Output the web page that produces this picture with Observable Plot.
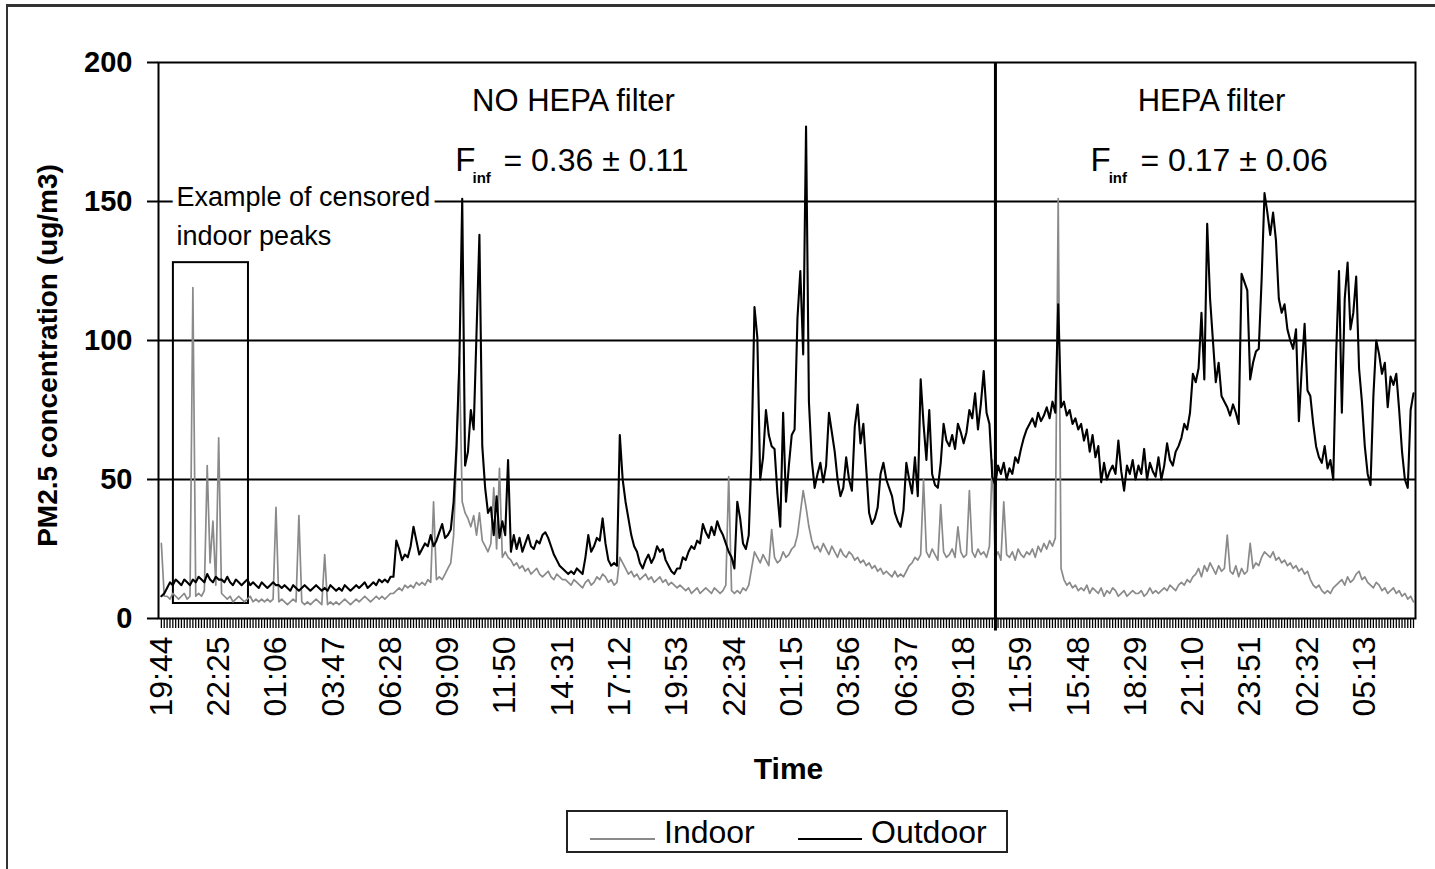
<!DOCTYPE html>
<html>
<head>
<meta charset="utf-8">
<script src="https://cdn.jsdelivr.net/npm/d3@7"></script>
<script src="https://cdn.jsdelivr.net/npm/@observablehq/plot@0.6"></script>
<style>
  html, body { margin: 0; padding: 0; background: #fff; }
  #page { position: relative; width: 1435px; height: 869px; overflow: hidden; font-family: "Liberation Sans", Arial, sans-serif; }
  #chart { position: absolute; left: 0; top: 0; }
  #pageframe { position: absolute; left: 6px; top: 4px; width: 1450px; height: 900px; border-left: 2px solid #333; border-top: 3px solid #333; pointer-events: none; }
  #legend { position: absolute; left: 566px; top: 810px; width: 438px; height: 39px; border: 2px solid #222; background: #fff; }
  #legend .sw { position: absolute; height: 0; }
  #legend .lt { position: absolute; top: 5px; font-size: 32px; line-height: 31px; color: #000; white-space: nowrap; }
</style>
</head>
<body>
<div id="page">
  <div id="chart"></div>
  <div id="pageframe"></div>
  <div id="legend"></div>
</div>
<script>
// ---------- data ----------
// x-axis category labels (every 20th sample)
const timeLabels = ["19:44","22:25","01:06","03:47","06:28","09:09","11:50","14:31","17:12","19:53","22:34",
                    "01:15","03:56","06:37","09:18","11:59","15:48","18:29","21:10","23:51","02:32","05:13"];
const labelEvery = 20;
const labelOffset = -1;
const firstIndex = -1;           // index of the first sample
const yTicks = [0, 50, 100, 150, 200];

// PM2.5 indoor (ug/m3)
const indoor = [27,
  8,8,7,9,8,7,8,9,7,8,119,8,9,8,10,55,20,35,12,65,
  9,8,7,8,6,7,8,7,6,7,8,6,7,6,7,6,7,6,7,40,
  6,7,6,5,6,7,6,37,6,5,6,5,6,7,6,5,23,5,6,5,
  6,5,6,7,6,5,6,7,6,7,8,7,6,7,8,7,8,7,8,9,
  9,10,11,10,12,11,12,11,13,12,13,12,14,13,42,14,15,14,16,18,
  20,30,58,94,42,38,36,33,37,30,38,28,26,24,27,47,25,54,22,24,
  22,21,19,20,18,19,17,18,16,17,18,16,15,16,17,15,14,16,15,14,
  14,13,12,14,13,12,11,13,14,12,13,15,14,16,15,13,14,12,13,22,
  20,18,16,17,15,16,14,15,16,14,15,13,14,15,13,14,12,13,12,11,
  12,11,10,11,9,10,11,9,10,11,10,9,11,10,9,10,12,51,10,9,
  10,9,11,10,12,18,24,22,20,23,21,19,32,22,20,21,24,22,23,25,
  26,30,38,46,40,33,28,25,26,24,27,25,23,26,24,22,25,23,22,24,
  23,21,22,20,21,19,20,18,19,17,18,16,17,16,15,17,15,16,15,17,
  19,20,22,21,23,50,24,22,25,23,21,41,24,22,23,25,22,33,24,22,
  23,46,24,22,25,23,24,22,26,57,22,24,21,42,23,22,24,21,25,23,
  22,24,23,25,22,26,24,27,25,28,26,29,151,18,14,12,13,11,12,10,
  11,10,12,9,11,10,9,11,8,10,9,11,10,8,9,10,8,9,10,9,
  9,10,8,9,11,9,10,9,10,11,10,12,11,10,12,13,12,14,13,15,
  16,18,15,19,17,20,18,16,19,17,18,30,17,16,19,15,18,16,17,27,
  18,20,19,22,24,23,22,24,21,22,20,21,19,20,18,19,17,18,16,17,
  14,12,11,12,10,9,10,9,11,12,13,14,12,15,13,14,16,17,14,15,
  13,12,11,13,12,10,11,9,10,11,9,10,8,9,7,8,6];

// PM2.5 outdoor (ug/m3)
const outdoor = [8,
  9,11,13,12,14,13,12,14,13,12,14,13,15,14,13,16,14,13,15,14,
  14,13,15,13,12,14,13,12,13,14,12,13,12,11,13,12,11,12,13,12,
  12,11,12,11,10,12,11,10,11,12,11,10,11,12,11,10,11,10,12,11,
  10,11,10,12,11,10,11,12,11,12,13,11,12,13,12,14,13,14,13,15,
  15,28,25,21,23,22,26,33,28,23,25,27,26,30,26,28,31,34,29,30,
  32,42,62,92,151,55,60,75,68,103,138,62,47,38,40,30,44,29,35,30,
  57,24,30,25,29,24,27,30,26,25,28,27,30,31,29,26,23,21,19,18,
  17,16,17,16,18,17,16,22,30,24,26,29,28,36,27,21,19,20,19,66,
  50,42,36,30,26,24,20,18,21,23,20,22,26,24,25,21,19,17,16,18,
  18,22,21,24,26,25,28,27,34,31,29,33,30,35,32,30,27,24,22,18,
  42,36,27,25,30,60,112,101,50,58,75,66,62,61,45,33,74,42,55,66,
  68,108,125,95,177,78,57,47,52,56,49,55,74,67,60,50,44,47,58,50,
  46,69,77,63,70,54,38,34,36,40,52,56,50,47,44,38,35,33,39,56,
  50,45,58,44,86,70,57,75,52,48,47,56,70,64,62,66,61,70,67,63,
  67,75,72,81,68,77,89,74,70,51,48,55,52,56,50,54,52,58,56,61,
  65,68,70,72,69,74,71,73,76,72,78,74,113,76,78,73,75,70,72,68,
  70,64,68,60,66,58,62,49,56,50,53,55,52,64,53,46,55,52,57,50,
  55,52,61,50,56,53,51,58,50,55,63,57,55,60,62,65,70,68,74,88,
  85,90,110,86,142,115,100,85,92,80,78,76,73,77,74,70,124,121,118,86,
  92,96,97,122,153,146,138,146,136,115,110,113,104,100,97,104,71,90,106,82,
  80,70,62,58,56,62,54,57,50,95,125,74,115,128,104,110,123,90,78,62,
  52,48,80,100,95,88,92,76,87,84,88,75,60,50,47,75,81];

// annotations
const hepaDivider = 290.1;                 // sample index where the HEPA filter was switched on
const sectionTitles = ["NO HEPA filter", "HEPA filter"];
const sectionX = [142.8, 365.5];
const finfValues = ["= 0.36 \u00b1 0.11", "= 0.17 \u00b1 0.06"];
const finfF = [101.6, 323.3];
const finfSub = [107.6, 329.6];
const finfVal = [118.4, 340.7];
const censoredLines = ["Example of censored", "indoor peaks"];
const censoredBox = [{x1: 3.2, x2: 29.4, y1: 5.4, y2: 128}];
const seriesNames = ["Indoor", "Outdoor"];
const seriesColors = ["#8a8a8a", "#000000"];

// ---------- build ----------
const n = Math.min(indoor.length, outdoor.length);
const indoorData = indoor.slice(0, n).map((v, j) => ({t: j + firstIndex, v}));
const outdoorData = outdoor.slice(0, n).map((v, j) => ({t: j + firstIndex, v}));
const minorTicks = d3.range(firstIndex, firstIndex + n);
const labelIndex = timeLabels.map((_, k) => k * labelEvery + labelOffset);
const labelOf = new Map(labelIndex.map((d, k) => [d, timeLabels[k]]));

const sections = sectionTitles.map((s, k) => ({s, x: sectionX[k], y: 186.3}));
const finf = finfValues.map((s, k) => ({s, xF: finfF[k], xS: finfSub[k], xV: finfVal[k], y: 164.7, ys: 158.5}));
const notes = censoredLines.map((s, k) => ({s, x: 4.3, y: k === 0 ? 151.4 : 137.4}));

const font = '"Liberation Sans", Arial, Helvetica, sans-serif';

const chart = Plot.plot({
  width: 1435,
  height: 800,
  marginLeft: 158,
  marginRight: 20,
  marginTop: 62,
  marginBottom: 182,
  style: {fontFamily: font, color: "#000", overflow: "visible"},
  x: {type: "linear", domain: [-2, 436.7], axis: null},
  y: {type: "linear", domain: [0, 200], axis: null},
  marks: [
    Plot.ruleY([50, 100, 150], {stroke: "#000", strokeWidth: 2}),
    Plot.text(notes, {x: "x", y: "y", text: "s", textAnchor: "start", fontSize: 27, fill: "#000",
                      stroke: "#fff", strokeWidth: 12}),
    Plot.rect(censoredBox, {x1: "x1", x2: "x2", y1: "y1", y2: "y2", fill: "none", stroke: "#000", strokeWidth: 2}),
    Plot.line(indoorData, {x: "t", y: "v", stroke: seriesColors[0], strokeWidth: 1.7}),
    Plot.line(outdoorData, {x: "t", y: "v", stroke: seriesColors[1], strokeWidth: 2.1}),
    Plot.ruleX([hepaDivider], {y1: -4.5, y2: 200, stroke: "#000", strokeWidth: 3}),
    Plot.frame({stroke: "#000", strokeWidth: 2}),
    Plot.axisY({ticks: yTicks, tickSize: 11, tickPadding: 15, fontSize: 29, fontWeight: "bold",
                label: null, strokeWidth: 2}),
    Plot.axisX({ticks: minorTicks, tickSize: 10, tickFormat: () => "", label: null, strokeWidth: 1.3}),
    Plot.axisX({ticks: labelIndex, tickSize: 0, tickPadding: 18, tickRotate: -90,
                tickFormat: d => labelOf.get(d), fontSize: 32, label: null}),
    Plot.text(sections, {x: "x", y: "y", text: "s", fontSize: 31, lineAnchor: "middle", fill: "#000"}),
    Plot.text(finf, {x: "xF", y: "y", text: () => "F", textAnchor: "start", fontSize: 33, fill: "#000"}),
    Plot.text(finf, {x: "xS", y: "ys", text: () => "inf", textAnchor: "start", fontSize: 15, fontWeight: "bold", fill: "#000"}),
    Plot.text(finf, {x: "xV", y: "y", text: "s", textAnchor: "start", fontSize: 32, fill: "#000"}),
    Plot.text(["PM2.5 concentration (ug/m3)"], {text: d => d, frameAnchor: "left", textAnchor: "middle",
                dx: -110, dy: 15, rotate: -90, fontSize: 28, fontWeight: "bold", fill: "#000"}),
    Plot.text(["Time"], {text: d => d, frameAnchor: "bottom", lineAnchor: "middle", dx: 1.5, dy: 151,
                fontSize: 30, fontWeight: "bold", fill: "#000"})
  ]
});
document.getElementById("chart").appendChild(chart);

// legend
const legend = document.getElementById("legend");
const legendSpec = [
  {swLeft: 22, swWidth: 65, width: 2, txtLeft: 96},
  {swLeft: 230, swWidth: 64, width: 2.5, txtLeft: 303}
];
seriesNames.forEach((name, k) => {
  const sw = document.createElement("span");
  sw.className = "sw";
  sw.style.left = legendSpec[k].swLeft + "px";
  sw.style.top = "26px";
  sw.style.width = legendSpec[k].swWidth + "px";
  sw.style.borderTop = legendSpec[k].width + "px solid " + seriesColors[k];
  legend.appendChild(sw);
  const t = document.createElement("span");
  t.className = "lt";
  t.style.left = legendSpec[k].txtLeft + "px";
  t.textContent = name;
  legend.appendChild(t);
});
</script>
</body>
</html>
